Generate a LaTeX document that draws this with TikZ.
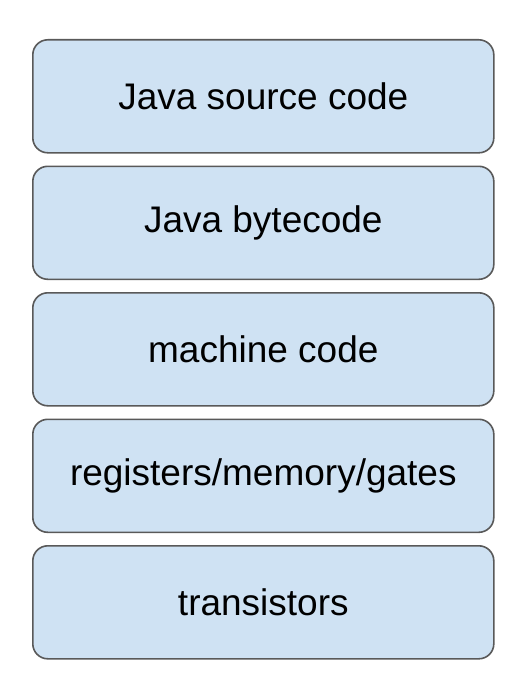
\documentclass[tikz,border=0pt]{standalone}
\usepackage{fontspec}
\setmainfont{Liberation Sans}
\definecolor{boxfill}{HTML}{CFE2F3}
\definecolor{boxline}{HTML}{595959}
\begin{document}
\begin{tikzpicture}[x=1pt,y=-1pt,
  layerbox/.style={draw=boxline, fill=boxfill, line width=1.6pt, rounded corners=15pt,
    minimum width=461pt, minimum height=113pt, inner sep=0pt, anchor=north west,
    font=\fontsize{37}{40}\selectfont}]
\useasboundingbox[fill=white] (0,0) rectangle (514,690);
\node[layerbox] (src) at (32,39) {Java source code};
\node[layerbox] (byte) at (32,165.5) {Java bytecode};
\node[layerbox] (mach) at (32,292) {machine code};
\node[layerbox] (regs) at (32,418.5) {registers/memory/gates};
\node[layerbox] (trans) at (32,545) {transistors};
\end{tikzpicture}
\end{document}
